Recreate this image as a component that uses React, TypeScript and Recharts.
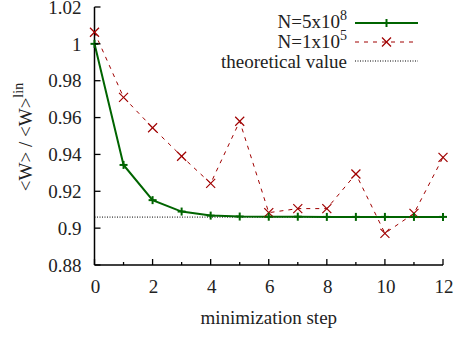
import React from 'react';
import { LineChart, Line, XAxis, YAxis, ReferenceLine, Legend } from 'recharts';

const steps = [0, 1, 2, 3, 4, 5, 6, 7, 8, 9, 10, 11, 12];
const seriesN5e8 = [1.0, 0.9343, 0.9152, 0.909, 0.9068, 0.9063, 0.9062, 0.9062, 0.9061, 0.9061, 0.9061, 0.9061, 0.9061];
const seriesN1e5 = [1.0063, 0.971, 0.9545, 0.939, 0.9243, 0.958, 0.9084, 0.9106, 0.9106, 0.9294, 0.8972, 0.908, 0.9384];
const theoreticalValue = 0.906;
const xTicks = [0, 1, 2, 3, 4, 5, 6, 7, 8, 9, 10, 11, 12];
const yTicks = [0.88, 0.9, 0.92, 0.94, 0.96, 0.98, 1.0, 1.02];

const data = steps.map((s, i) => ({ step: s, a: seriesN5e8[i], b: seriesN1e5[i] }));

const FONT = "'Liberation Serif', 'Times New Roman', Times, Tinos, 'DejaVu Serif', 'Noto Serif', serif";
const GREEN = '#006400';
const RED = '#a00000';
const FS = 19;

const fmtY = (v: number) => {
  const r = Math.round(v * 100) / 100;
  return String(r);
};

const BottomTick = (props: any) => {
  const { x, y, payload } = props;
  const v = payload.value;
  const major = v % 2 === 0;
  return (
    <g>
      <line x1={x} x2={x} y1={y} y2={y - (major ? 6 : 3)} stroke="#000" strokeWidth={1.3} />
      {major && (
        <text x={x + 1} y={y + 28} textAnchor="middle" style={{ fontFamily: FONT }} fontSize={FS} fill="#222">
          {v}
        </text>
      )}
    </g>
  );
};

const TopTick = (props: any) => {
  const { x, y, payload } = props;
  const major = payload.value % 2 === 0;
  return <line x1={x} x2={x} y1={y} y2={y + (major ? 6 : 3)} stroke="#000" strokeWidth={1.3} />;
};

const LeftTick = (props: any) => {
  const { x, y, payload } = props;
  return (
    <g>
      <line x1={x} x2={x + 6} y1={y} y2={y} stroke="#000" strokeWidth={1.3} />
      <text x={x - 13} y={y} dy="0.35em" textAnchor="end" style={{ fontFamily: FONT }} fontSize={FS} fill="#222">
        {fmtY(payload.value)}
      </text>
    </g>
  );
};

const RightTick = (props: any) => {
  const { x, y } = props;
  return <line x1={x} x2={x - 6} y1={y} y2={y} stroke="#000" strokeWidth={1.3} />;
};

const PlusDot = (props: any) => {
  const { cx, cy, index } = props;
  return (
    <g key={`p${index}`}>
      <line x1={cx - 4} x2={cx + 4} y1={cy} y2={cy} stroke={GREEN} strokeWidth={2} />
      <line x1={cx} x2={cx} y1={cy - 4} y2={cy + 4} stroke={GREEN} strokeWidth={2} />
    </g>
  );
};

const CrossDot = (props: any) => {
  const { cx, cy, index } = props;
  const s = 4.5;
  return (
    <g key={`x${index}`}>
      <line x1={cx - s} x2={cx + s} y1={cy - s} y2={cy + s} stroke={RED} strokeWidth={1.2} />
      <line x1={cx - s} x2={cx + s} y1={cy + s} y2={cy - s} stroke={RED} strokeWidth={1.2} />
    </g>
  );
};

const legendRows = [
  { key: 'a', base: 'N=5x10', sup: '8', kind: 'green' },
  { key: 'b', base: 'N=1x10', sup: '5', kind: 'red' },
  { key: 'c', base: 'theoretical value', sup: '', kind: 'dot' },
];

const LegendContent = () => (
  <div style={{ fontFamily: FONT, fontSize: FS, color: '#222' }}>
    {legendRows.map((r) => (
      <div key={r.key} style={{ display: 'flex', alignItems: 'center', height: 19.7 }}>
        <div style={{ width: 147, textAlign: 'right', whiteSpace: 'nowrap', lineHeight: '19px' }}>
          {r.base}
          {r.sup && (
            <sup style={{ fontSize: 14, lineHeight: 0, verticalAlign: 'baseline', position: 'relative', top: -8 }}>
              {r.sup}
            </sup>
          )}
        </div>
        <svg width={72} height={20} style={{ marginLeft: 8, overflow: 'visible' }}>
          {r.kind === 'green' && (
            <g>
              <line x1={0} x2={63} y1={11} y2={11} stroke={GREEN} strokeWidth={2} />
              <line x1={27.5} x2={35.5} y1={11} y2={11} stroke={GREEN} strokeWidth={2} />
              <line x1={31.5} x2={31.5} y1={7} y2={15} stroke={GREEN} strokeWidth={2} />
            </g>
          )}
          {r.kind === 'red' && (
            <g>
              <line x1={0} x2={63} y1={10} y2={10} stroke={RED} strokeWidth={1} strokeDasharray="4 5" />
              <line x1={27} x2={36} y1={5.5} y2={14.5} stroke={RED} strokeWidth={1.2} />
              <line x1={27} x2={36} y1={14.5} y2={5.5} stroke={RED} strokeWidth={1.2} />
            </g>
          )}
          {r.kind === 'dot' && (
            <line x1={0} x2={63} y1={10} y2={10} stroke="#000" strokeWidth={1} strokeDasharray="1 1.5" />
          )}
        </svg>
      </div>
    ))}
  </div>
);

const XLabel = (props: any) => {
  const { viewBox } = props;
  return (
    <text x={viewBox.x + viewBox.width / 2} y={viewBox.y + 59} textAnchor="middle" style={{ fontFamily: FONT }} fontSize={FS} fill="#222">
      minimization step
    </text>
  );
};

const YLabel = (props: any) => {
  const { viewBox } = props;
  const cy = viewBox.y + viewBox.height / 2 + 1;
  const cx = 32;
  return (
    <text x={cx} y={cy} transform={`rotate(-90, ${cx}, ${cy})`} textAnchor="middle" style={{ fontFamily: FONT }} fontSize={FS} fill="#222">
      {'<W> / <W>'}
      <tspan dy={-9} fontSize={14}>lin</tspan>
    </text>
  );
};

export default function App() {
  return (
    <div style={{ position: 'absolute', left: 0, top: 0, width: 455, height: 338, background: '#fff', fontFamily: FONT }}>
      <LineChart width={455} height={338} data={data} margin={{ top: 7, right: 12, left: 0, bottom: 0 }}>
        <XAxis
          xAxisId="bottom"
          dataKey="step"
          type="number"
          domain={[0, 12]}
          ticks={xTicks}
          interval={0}
          height={73}
          tickSize={0}
          tickMargin={0}
          tick={<BottomTick />}
          axisLine={{ stroke: '#000', strokeWidth: 1.5 }}
          label={<XLabel />}
        />
        <XAxis
          xAxisId="top"
          orientation="top"
          dataKey="step"
          type="number"
          domain={[0, 12]}
          ticks={xTicks}
          interval={0}
          height={0}
          tickSize={0}
          tickMargin={0}
          tick={<TopTick />}
          axisLine={{ stroke: '#000', strokeWidth: 1.5 }}
        />
        <YAxis
          yAxisId="left"
          type="number"
          domain={[0.88, 1.02]}
          ticks={yTicks}
          interval={0}
          width={94.5}
          tickSize={0}
          tickMargin={0}
          tick={<LeftTick />}
          axisLine={{ stroke: '#000', strokeWidth: 1.5 }}
          label={<YLabel />}
        />
        <YAxis
          yAxisId="right"
          orientation="right"
          type="number"
          domain={[0.88, 1.02]}
          ticks={yTicks}
          interval={0}
          width={0}
          tickSize={0}
          tickMargin={0}
          tick={<RightTick />}
          axisLine={{ stroke: '#000', strokeWidth: 1.5 }}
        />
        <ReferenceLine
          xAxisId="bottom"
          yAxisId="left"
          y={theoreticalValue}
          stroke="#000"
          strokeWidth={1}
          strokeDasharray="1 1.5"
        />
        <Line
          xAxisId="bottom"
          yAxisId="left"
          dataKey="b"
          stroke={RED}
          strokeWidth={1}
          strokeDasharray="4 5"
          dot={CrossDot}
          isAnimationActive={false}
        />
        <Line
          xAxisId="bottom"
          yAxisId="left"
          dataKey="a"
          stroke={GREEN}
          strokeWidth={2}
          dot={PlusDot}
          isAnimationActive={false}
        />
        <Legend
          layout="vertical"
          align="center"
          verticalAlign="middle"
          content={<LegendContent />}
          wrapperStyle={{ position: 'absolute', left: 200, top: 12, width: 230, height: 60 }}
        />
      </LineChart>
    </div>
  );
}
